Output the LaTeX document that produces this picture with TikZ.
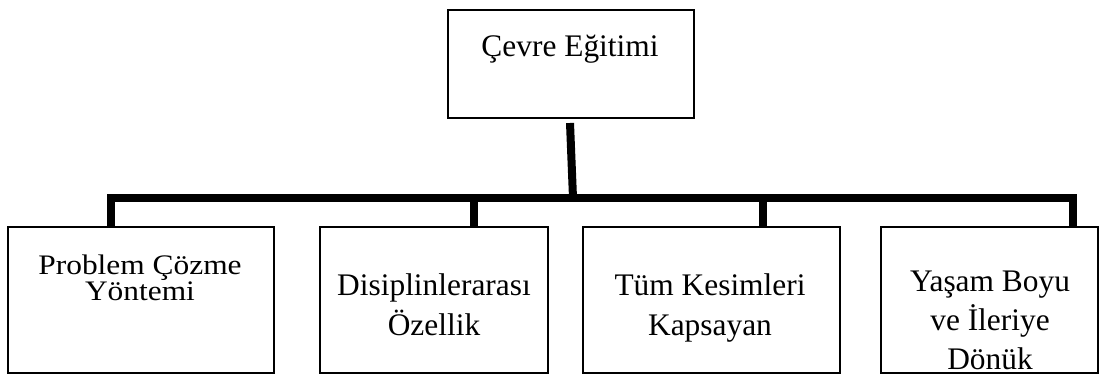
\documentclass[tikz,border=0pt]{standalone}
\usepackage{fontspec}
\setmainfont{Liberation Serif}
\begin{document}
\begin{tikzpicture}[x=1pt,y=-1pt,
  box/.style={draw, line width=2pt, anchor=north west, inner sep=0pt},
  conn/.style={line width=8pt, line join=miter},
  lbl/.style={anchor=base, inner sep=0pt, font=\fontsize{31.4}{40}\selectfont}]
\useasboundingbox (0,0) rectangle (1099,374);

% boxes
\node[box, minimum width=246pt, minimum height=108pt] (top) at (447,9) {};
\node[box, minimum width=266pt, minimum height=146pt] (b1) at (7,226) {};
\node[box, minimum width=228pt, minimum height=146pt] (b2) at (319,226) {};
\node[box, minimum width=257pt, minimum height=146pt] (b3) at (582,226) {};
\node[box, minimum width=217pt, minimum height=146pt] (b4) at (880,226) {};

% labels
\node[lbl] (ttop) at (570,57) {Çevre Eğitimi};
\node[lbl] (t1) at (140,274) {\scalebox{1}[0.9]{\fontsize{31.4}{29}\selectfont
  \begin{tabular}[t]{@{}c@{}}Problem Çözme\\Yöntemi\end{tabular}}};
\node[lbl] (t2) at (434,295) {\begin{tabular}[t]{@{}c@{}}Disiplinlerarası\\Özellik\end{tabular}};
\node[lbl] (t3) at (710,295) {\begin{tabular}[t]{@{}c@{}}Tüm Kesimleri\\Kapsayan\end{tabular}};
\node[lbl] (t4) at (990,291) {\fontsize{31.4}{39}\selectfont
  \begin{tabular}[t]{@{}c@{}}Yaşam Boyu\\ve İleriye\\Dönük\end{tabular}};

% connectors
\coordinate (hub) at (573,198);
\coordinate (d1) at ([xshift=-30pt]b1.north);
\coordinate (d2) at ([xshift=40pt]b2.north);
\coordinate (d3) at ([xshift=51pt]b3.north);
\coordinate (d4) at ([xshift=83pt]b4.north);
\draw[conn] ([xshift=-1pt,yshift=-4pt]top.south) -- (hub);
\draw[conn] (d1) |- (hub) -| (d4);
\draw[conn] (d2) -- (d2 |- hub);
\draw[conn] (d3) -- (d3 |- hub);
\end{tikzpicture}
\end{document}
